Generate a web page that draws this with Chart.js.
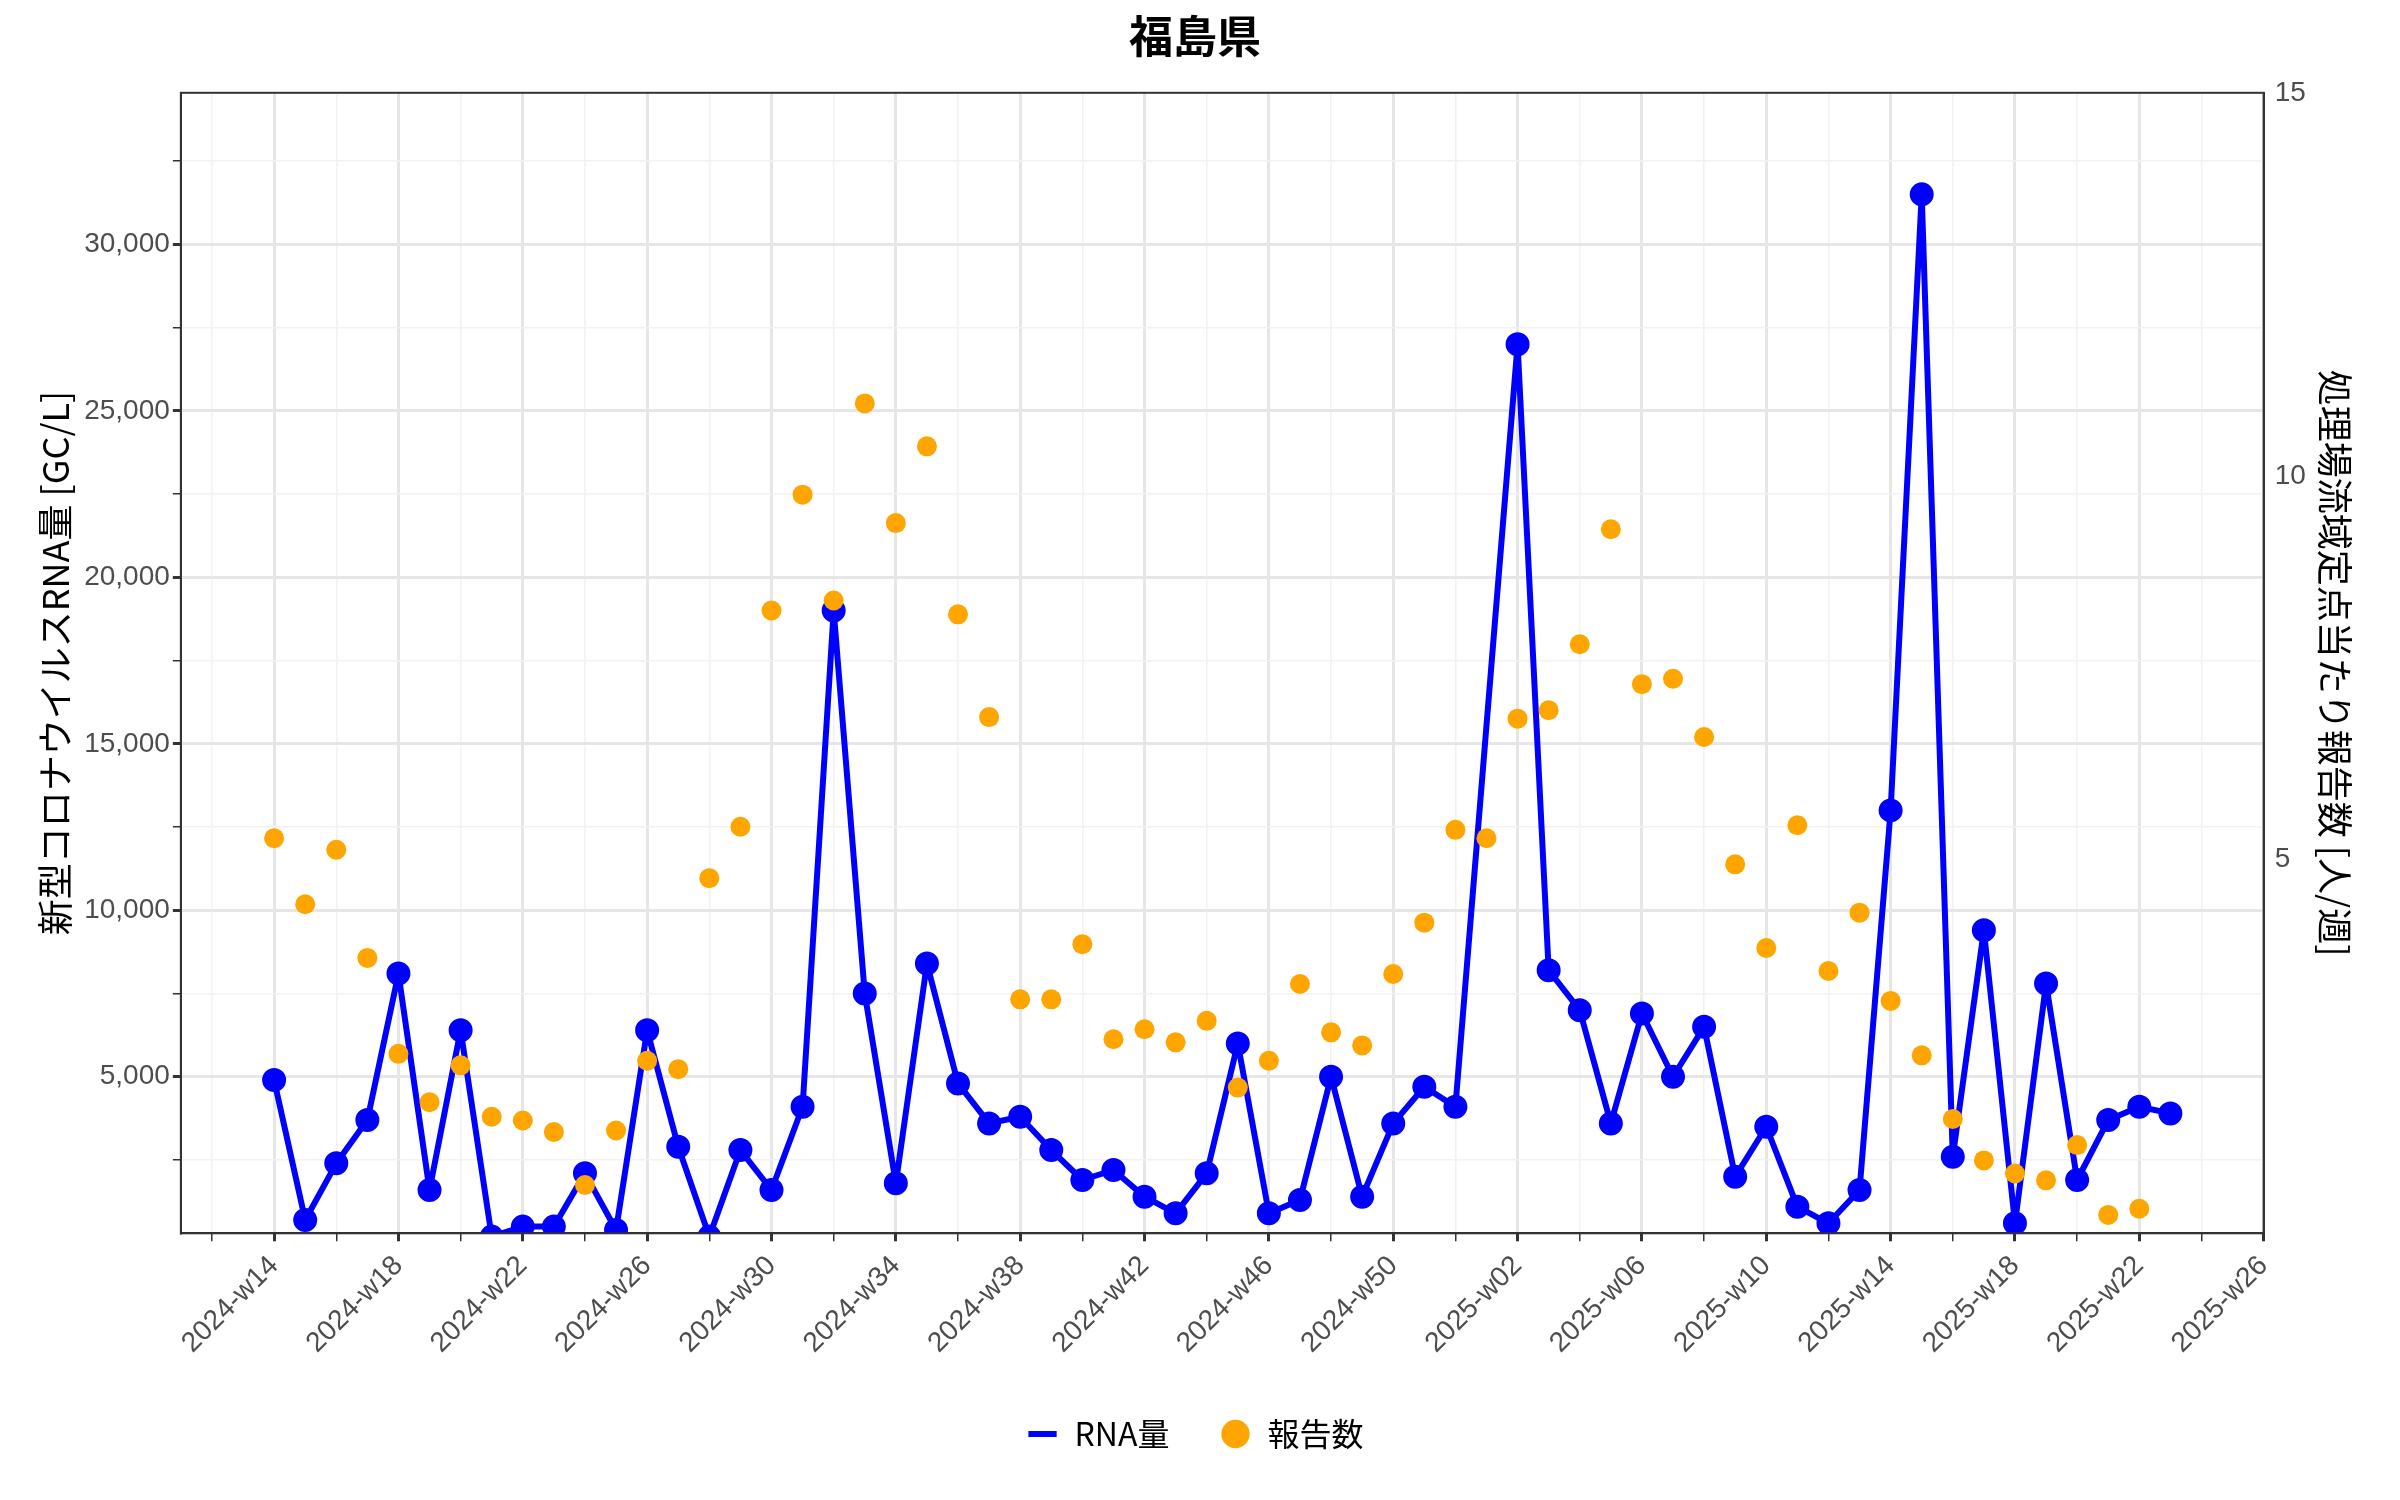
<!DOCTYPE html>
<html><head><meta charset="utf-8">
<script src="https://cdn.jsdelivr.net/npm/chart.js@4"></script>
<style>html,body{margin:0;background:#fff}#wrap{width:2400px;height:1500px}</style>
</head><body><div id="wrap"><canvas id="c"></canvas></div>
<script>
// semaines : 2024-w14 .. 2025-w26
const weeks = [];
for (let w = 14; w <= 52; w++) weeks.push(`2024-w${String(w).padStart(2, "0")}`);
for (let w = 1; w <= 26; w++) weeks.push(`2025-w${String(w).padStart(2, "0")}`);

// RNA量 [GC/L]
const rna = [4900, 700, 2400, 3700, 8100, 1600, 6400, 200, 500, 500, 2100, 400, 6400, 2900, 200, 2800, 1600, 4100,
  19000, 7500, 1800, 8400, 4800, 3600, 3800, 2800, 1900, 2200, 1400, 900, 2100, 6000, 900, 1300, 5000, 1400, 3600, 4700, 4100,
  null, 27000, 8200, 7000, 3600, 6900, 5000, 6500, 2000, 3500, 1100, 600, 1600, 13000, 31500, 2600, 9400, 600, 7800, 1900, 3700, 4100, 3900];

// 報告数 [人/週]
const reports = [5.28, 4.42, 5.13, 3.72, 2.47, 1.84, 2.32, 1.65, 1.60, 1.45, 0.76, 1.47, 2.38, 2.27, 4.76, 5.43, 8.25, 9.76,
  8.38, 10.95, 9.39, 10.39, 8.20, 6.86, 3.18, 3.18, 3.90, 2.66, 2.79, 2.62, 2.90, 2.03, 2.38, 3.38, 2.75, 2.58, 3.51, 4.18, 5.39,
  5.28, 6.84, 6.95, 7.81, 9.31, 7.29, 7.36, 6.60, 4.94, 3.85, 5.45, 3.55, 4.31, 3.16, 2.45, 1.62, 1.08, 0.91, 0.82, 1.28, 0.37, 0.45];

const leftTicks = [2500, 5000, 7500, 10000, 12500, 15000, 17500, 20000, 22500, 25000, 27500, 30000, 32500];
const rightTicks = [2.5, 5, 7.5, 10, 12.5, 15];

const font = "'Liberation Sans', Arial, sans-serif";
const fontJP = "'Noto Sans CJK JP', sans-serif";
const toPts = (arr) => arr.map((v, i) => ({ x: i, y: v }));

const frame = {
  id: "frame",
  afterDraw(chart) {
    const { ctx, chartArea: a } = chart;
    ctx.save();
    ctx.strokeStyle = "#333";
    ctx.lineWidth = 2;
    ctx.strokeRect(a.left, a.top, a.right - a.left, a.bottom - a.top);
    ctx.restore();
  },
};

const gridCol = (ctx, major) => (major ? "#e6e6e6" : "#f2f2f2");

new Chart(document.getElementById("c"), {
  type: "line",
  data: {
    datasets: [
      {
        label: "RNA量", data: toPts(rna), yAxisID: "y", borderColor: "#0000ff", backgroundColor: "#0000ff",
        borderWidth: 6, borderJoinStyle: "round", pointRadius: 9, pointHoverRadius: 9, spanGaps: true, order: 2,
      },
      {
        label: "報告数", data: toPts(reports), yAxisID: "y2", showLine: false, borderColor: "#ffa500",
        backgroundColor: "#ffa500", pointRadius: 10, pointBorderWidth: 0, order: 1,
      },
    ],
  },
  plugins: [frame],
  options: {
    responsive: true, maintainAspectRatio: false, animation: false,
    layout: { padding: { left: 30, right: 40, top: 10, bottom: 40 } },
    plugins: {
      title: { display: true, text: "福島県", color: "#000", font: { family: fontJP, size: 44, weight: "bold" }, padding: { top: 0, bottom: 30 } },
      legend: {
        position: "bottom",
        labels: {
          color: "#000", font: { family: fontJP, size: 32 }, padding: 50,
          generateLabels: () => [
            { text: "RNA量", strokeStyle: "#0000ff", fillStyle: "#0000ff", lineWidth: 6, pointStyle: "line" },
            { text: "報告数", strokeStyle: "#ffa500", fillStyle: "#ffa500", lineWidth: 0, pointStyle: "circle" },
          ],
          usePointStyle: true, boxWidth: 50, boxHeight: 20,
        },
      },
      tooltip: { enabled: false },
    },
    scales: {
      x: {
        type: "linear", min: -3, max: 64,
        afterBuildTicks: (s) => { s.ticks = []; for (let i = -2; i <= 64; i += 2) s.ticks.push({ value: i }); },
        ticks: {
          autoSkip: false, maxRotation: 45, minRotation: 45, color: "#4d4d4d",
          font: { family: font, size: 28 }, padding: 8,
          callback: (v) => (v % 4 === 0 && v >= 0 ? weeks[v] : ""),
        },
        grid: {
          color: (c) => gridCol(c, c.tick && c.tick.value % 4 === 0),
          lineWidth: (c) => (c.tick && c.tick.value % 4 === 0 ? 3 : 1.5),
          tickColor: "#333", tickLength: 8,
        },
        border: { color: "#333", width: 2 },
      },
      y: {
        position: "left", min: 300, max: 34550,
        afterBuildTicks: (s) => { s.ticks = leftTicks.map((v) => ({ value: v })); },
        ticks: {
          color: "#4d4d4d", font: { family: font, size: 28 },
          callback: (v) => (v % 5000 === 0 ? v.toLocaleString("en-US") : ""),
        },
        grid: {
          color: (c) => gridCol(c, c.tick && c.tick.value % 5000 === 0),
          lineWidth: (c) => (c.tick && c.tick.value % 5000 === 0 ? 3 : 1.5),
          tickColor: "#333", tickLength: 8,
        },
        border: { color: "#333", width: 2 },
        title: { display: true, text: "新型コロナウイルスRNA量 [GC/L]", color: "#000", font: { family: fontJP, size: 36 } },
      },
      y2: {
        position: "right", min: 0.13, max: 15,
        afterBuildTicks: (s) => { s.ticks = rightTicks.map((v) => ({ value: v })); },
        ticks: {
          color: "#4d4d4d", font: { family: font, size: 28 },
          callback: (v) => (v % 5 === 0 ? v : ""),
        },
        grid: { display: false, tickColor: "#333", tickLength: 8 },
        border: { color: "#333", width: 2 },
        title: { display: true, text: "処理場流域定点当たり報告数 [人/週]", color: "#000", font: { family: fontJP, size: 36 } },
      },
    },
  },
});
</script></body></html>
